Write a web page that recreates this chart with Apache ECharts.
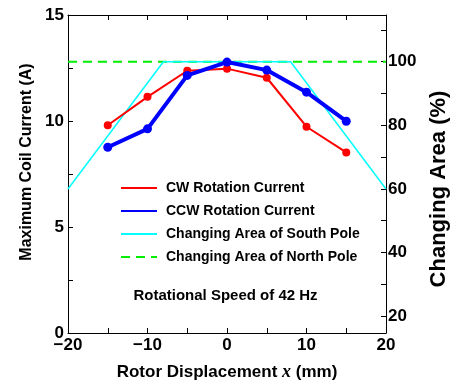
<!DOCTYPE html>
<html><head><meta charset="utf-8">
<script src="https://cdn.jsdelivr.net/npm/echarts@6/dist/echarts.min.js"></script>
<style>html,body{margin:0;padding:0;background:#fff}#c{width:451px;height:385px}</style>
</head><body><div id="c"></div>
<script>
const displacement = [-15, -10, -5, 0, 5, 10, 15];
const cwCurrent = [9.80, 11.14, 12.37, 12.47, 12.04, 9.73, 8.52];
const ccwCurrent = [8.76, 9.63, 12.15, 12.78, 12.40, 11.36, 9.99];
const southX = [-20, -8, 8, 20];
const southArea = [60, 100, 100, 60];
const northX = [-20, 20];
const northArea = [100, 100];
const leftTicks = [0, 5, 10, 15];
const rightLabels = [20, 40, 60, 80, 100];
const rightTicks = [20, 30, 40, 50, 60, 70, 80, 90, 100, 110];
const seriesNames = ['CW Rotation Current', 'CCW Rotation Current', 'Changing Area of South Pole', 'Changing Area of North Pole'];

const zip = (xs, ys) => xs.map((x, i) => [x, ys[i]]);
const FONT = 'Liberation Sans, Arial, sans-serif';
const chart = echarts.init(document.getElementById('c'), null, {renderer: 'canvas'});
const tickLabel = {color: '#000', fontFamily: FONT, fontSize: 17, fontWeight: 'bold'};
chart.setOption({
  animation: false,
  backgroundColor: '#fff',
  grid: {left: 68, right: 65, top: 15, bottom: 52, containLabel: false, outerBoundsMode: 'none'},
  legend: {
    orient: 'vertical', left: 115, top: 176, itemWidth: 36, itemHeight: 14, itemGap: 9,
    data: seriesNames,
    itemStyle: {opacity: 0},
    textStyle: {color: '#000', fontFamily: FONT, fontSize: 14, fontWeight: 'bold', padding: [0, 0, 0, 4]}
  },
  graphic: [{
    type: 'text', left: 'center', top: 288,
    style: {text: 'Rotational Speed of 42 Hz', fill: '#000', font: 'bold 15px ' + FONT}
  }],
  xAxis: [{
    type: 'value', min: -20, max: 20, interval: 10, position: 'bottom',
    axisLine: {show: true, onZero: false, lineStyle: {color: '#000', width: 1}},
    axisTick: {show: true, inside: true, length: 5, lineStyle: {color: '#000'}},
    minorTick: {show: true, splitNumber: 2, length: 5, lineStyle: {color: '#000'}},
    splitLine: {show: false},
    axisLabel: Object.assign({margin: 4, formatter: v => v < 0 ? '\u2212' + Math.abs(v) : String(v)}, tickLabel),
    name: '{a|Rotor Displacement }{i|x}{a| (mm)}', nameLocation: 'middle', nameGap: 30,
    nameTextStyle: {rich: {
      a: {fontFamily: FONT, fontSize: 17, fontWeight: 'bold', color: '#000'},
      i: {fontFamily: 'Liberation Serif, serif', fontSize: 18, fontStyle: 'italic', fontWeight: 'bold', color: '#000'}
    }}
  }, {
    type: 'value', min: -20, max: 20, interval: 10, position: 'top',
    axisLine: {show: true, onZero: false, lineStyle: {color: '#000', width: 1}},
    axisTick: {show: true, inside: true, length: 5, lineStyle: {color: '#000'}},
    minorTick: {show: true, splitNumber: 2, length: 5, lineStyle: {color: '#000'}},
    splitLine: {show: false}, axisLabel: {show: false}
  }],
  yAxis: [{
    type: 'value', min: 0, max: 15, interval: 5, position: 'left',
    axisLine: {show: true, onZero: false, lineStyle: {color: '#000', width: 1}},
    axisTick: {show: true, inside: true, length: 5, lineStyle: {color: '#000'}},
    minorTick: {show: true, splitNumber: 2, length: 5, lineStyle: {color: '#000'}},
    splitLine: {show: false},
    axisLabel: Object.assign({margin: 4, customValues: leftTicks}, tickLabel),
    name: 'Maximum Coil Current (A)', nameLocation: 'middle', nameGap: 25,
    nameTextStyle: {color: '#000', fontFamily: FONT, fontSize: 16, fontWeight: 'bold', padding: [0, 0, 0, 24]}
  }, {
    type: 'value', min: 14.7, max: 114.7, position: 'right',
    axisLine: {show: true, onZero: false, lineStyle: {color: '#000', width: 1}},
    axisTick: {show: true, inside: true, length: 5, customValues: rightTicks, lineStyle: {color: '#000'}},
    splitLine: {show: false},
    axisLabel: Object.assign({margin: 2, customValues: rightLabels}, tickLabel),
    name: 'Changing Area (%)', nameLocation: 'middle', nameGap: 42, nameRotate: 90,
    nameTextStyle: {color: '#000', fontFamily: FONT, fontSize: 22, fontWeight: 'bold', padding: [0, 30, 0, 0]}
  }],
  series: [{
    name: seriesNames[3], type: 'line', xAxisIndex: 0, yAxisIndex: 1, data: zip(northX, northArea),
    symbol: 'none', z: 2,
    lineStyle: {color: '#00ee00', width: 2, type: [9, 6]}, itemStyle: {color: '#00ee00'}
  }, {
    name: seriesNames[2], type: 'line', xAxisIndex: 0, yAxisIndex: 1, data: zip(southX, southArea),
    symbol: 'none', z: 3,
    lineStyle: {color: '#00ffff', width: 1.5}, itemStyle: {color: '#00ffff'}
  }, {
    name: seriesNames[0], type: 'line', xAxisIndex: 0, yAxisIndex: 0, data: zip(displacement, cwCurrent),
    symbol: 'circle', symbolSize: 8, z: 4,
    lineStyle: {color: '#ff0000', width: 2}, itemStyle: {color: '#ff0000'}
  }, {
    name: seriesNames[1], type: 'line', xAxisIndex: 0, yAxisIndex: 0, data: zip(displacement, ccwCurrent),
    symbol: 'circle', symbolSize: 9, z: 5,
    lineStyle: {color: '#0000ff', width: 4}, itemStyle: {color: '#0000ff'}
  }]
});
</script></body></html>
